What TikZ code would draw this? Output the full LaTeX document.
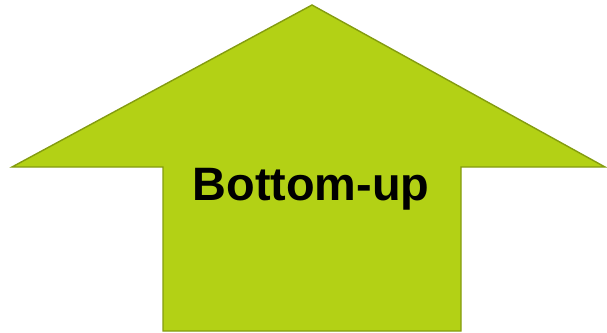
\documentclass[tikz,border=0pt]{standalone}
\usepackage{fontspec}
\setmainfont{Liberation Sans}
\definecolor{arrowfill}{HTML}{B3D115}
\definecolor{arrowline}{HTML}{849C10}
\tikzset{
  bigarrow/.style={fill=arrowfill,draw=arrowline,line width=1.2pt,line join=miter},
  arrowlbl/.style={font=\fontsize{40}{48}\selectfont\bfseries,inner sep=0pt,anchor=base},
}
\begin{document}
\begin{tikzpicture}[x=0.03cm,y=-0.03cm]
  \useasboundingbox (0,0) rectangle (607,333);
  % arrow outline
  \draw[bigarrow] (312,5) -- (605,167) -- (461,167) -- (461,331)
    -- (163,331) -- (163,167) -- (12,167) -- cycle;
  \node[arrowlbl] (lbl) at (311,200) {Bottom-up};
\end{tikzpicture}
\end{document}
